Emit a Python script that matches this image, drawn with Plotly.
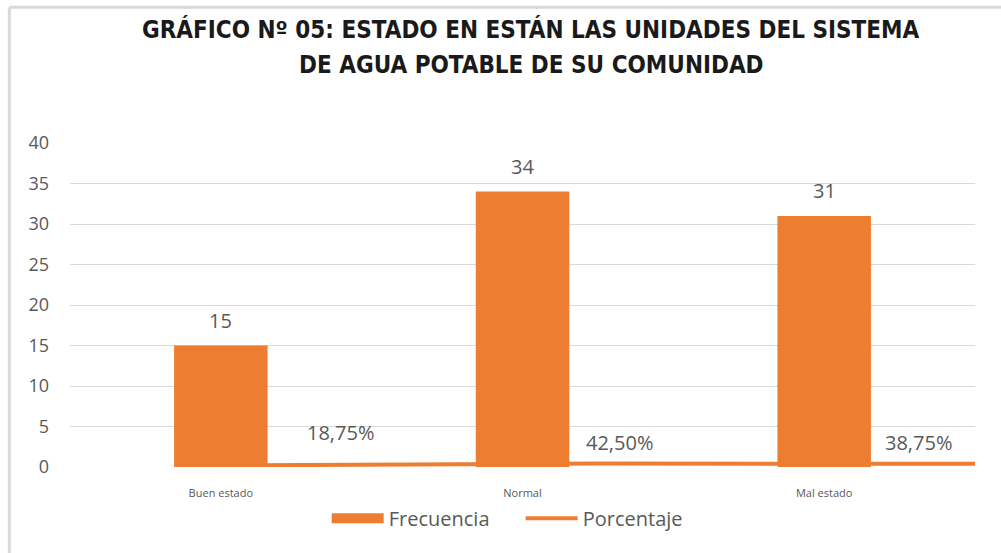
import plotly.graph_objects as go

categories = ["Buen estado", "Normal", "Mal estado"]
frecuencia = [15, 34, 31]
porcentaje = [0.1875, 0.4250, 0.3875]
porcentaje_labels = ["18,75%", "42,50%", "38,75%"]
y_ticks = [0, 5, 10, 15, 20, 25, 30, 35, 40]
title_lines = ["GRÁFICO Nº 05: ESTADO EN ESTÁN LAS UNIDADES DEL SISTEMA",
               "DE AGUA POTABLE DE SU COMUNIDAD"]

ORANGE = "#ED7D31"
GRAY = "#595959"
TFONT = "DejaVu Sans Condensed, Liberation Sans, sans-serif"
BFONT = "Open Sans, sans-serif"

fig = go.Figure()

fig.add_trace(go.Bar(
    x=categories, y=frecuencia, name="Frecuencia",
    marker=dict(color=ORANGE, line=dict(width=0)),
    width=0.31, showlegend=False,
))
fig.add_trace(go.Scatter(
    x=[None], y=[None], mode="lines", name="Frecuencia",
    line=dict(color=ORANGE, width=13),
))
fig.add_trace(go.Scatter(
    x=categories, y=porcentaje, name="Porcentaje", mode="lines",
    line=dict(color=ORANGE, width=4), xaxis="x2",
))

annotations = []
for c, v in zip(categories, frecuencia):
    annotations.append(dict(x=c, y=v, xref="x", yref="y", text=str(v),
                            showarrow=False, yanchor="middle", yshift=25,
                            font=dict(size=20, color=GRAY, family=BFONT)))
pct_shift = [(121, 33), (22, 21), (-57, 21)]
for c, v, t, (dx, dy) in zip(categories, porcentaje, porcentaje_labels, pct_shift):
    annotations.append(dict(x=c, y=v, xref="x2", yref="y", text=t,
                            showarrow=False, yanchor="middle", xshift=dx, yshift=dy,
                            font=dict(size=20, color=GRAY, family=BFONT)))
for line, py in zip(title_lines, [1.3488, 1.2407]):
    annotations.append(dict(x=0.5094, y=py, xref="paper", yref="paper", text=line,
                            showarrow=False, xanchor="center", yanchor="middle",
                            font=dict(size=24, color="#1a1a1a", family=TFONT, weight="bold")))

fig.update_layout(
    width=1001, height=553,
    margin=dict(l=70, r=26, t=143, b=86),
    paper_bgcolor="white", plot_bgcolor="white",
    xaxis=dict(type="category", range=[-0.5, 2.5], showgrid=False, zeroline=False,
               showline=False, ticks="", ticklabelstandoff=18, automargin=False,
               tickfont=dict(size=11, color=GRAY, family=BFONT)),
    xaxis2=dict(type="category", overlaying="x", range=[-0.397, 2.0], visible=False),
    yaxis=dict(range=[0, 40], tickvals=y_ticks, showgrid=True, gridcolor="#D9D9D9",
               gridwidth=1, zeroline=False, showline=False, ticks="", ticklabelstandoff=20,
               automargin=False,
               tickfont=dict(size=18, color=GRAY, family=BFONT)),
    legend=dict(orientation="h", x=0.498, xanchor="center", y=-0.098, yanchor="top",
                font=dict(size=20, color=GRAY, family=BFONT),
                itemwidth=52, entrywidth=127, traceorder="normal"),
    annotations=annotations,
    shapes=[
        dict(type="line", xref="paper", yref="paper", x0=-0.067, x1=1.1, y0=1.419, y1=1.419,
             line=dict(color="#D9D9D9", width=3)),
        dict(type="line", xref="paper", yref="paper", x0=-0.067, x1=-0.067, y0=1.419, y1=-0.3,
             line=dict(color="#D9D9D9", width=3)),
    ],
)

fig.write_html("out.html", config={"displayModeBar": False},
               post_script="document.body.style.margin='0';")
